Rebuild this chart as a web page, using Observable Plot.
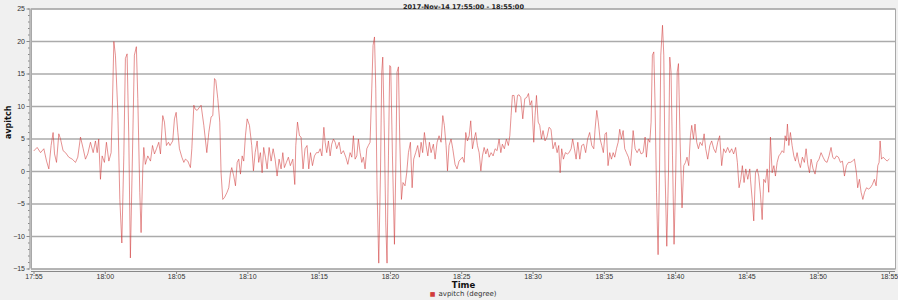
<!DOCTYPE html>
<html>
<head>
<meta charset="utf-8">
<script src="https://cdn.jsdelivr.net/npm/d3@7"></script>
<script src="https://cdn.jsdelivr.net/npm/@observablehq/plot@0.6"></script>
<style>
  html, body { margin: 0; padding: 0; background: #f0f0f0; }
  #chart svg { display: block; }
</style>
</head>
<body>
<div id="chart"></div>
<script>
// Minutes after 17:55:00 (2017-Nov-14)
const minutes = [
  0.00,0.22,0.46,0.69,0.88,1.04,1.20,1.34,1.44,1.58,1.74,1.86,2.04,2.21,2.44,2.68,2.91,3.07,3.26,3.45,3.61,3.77,3.96,4.15,4.31,4.43,4.54,4.66,4.78,4.94,5.08,5.25,5.41,5.50,5.60,5.71,5.88,6.02,6.16,6.30,6.41,6.53,6.65,6.76,6.88,7.04,7.18,7.28,7.42,7.51,7.63,7.70,7.81,7.98,8.17,8.31,8.45,8.59,8.75,8.87,9.03,9.15,9.29,9.43,9.54,9.73,9.85,
  9.97,10.09,10.20,10.37,10.51,10.62,10.79,10.97,11.07,11.21,11.30,11.44,11.61,11.72,11.91,12.12,12.26,12.42,12.54,12.66,12.75,12.89,13.03,13.12,13.24,13.36,13.54,13.66,13.78,13.87,14.01,14.13,14.25,14.36,14.48,14.60,14.71,14.83,14.95,15.11,15.27,15.39,15.51,15.65,15.76,15.88,16.00,16.11,16.23,16.35,16.49,16.63,16.77,16.91,17.05,17.19,17.33,17.45,17.56,17.70,17.84,17.98,18.15,18.29,18.36,18.48,18.62,18.73,18.87,19.01,19.15,19.27,19.39,19.53,19.67,19.81,
  19.95,20.07,20.19,20.33,20.42,20.53,20.65,20.77,20.88,21.00,21.12,21.23,21.40,21.54,21.70,21.87,22.01,22.17,22.29,22.40,22.52,22.64,22.75,22.87,22.99,23.10,23.22,23.34,23.45,23.57,23.69,23.78,23.88,23.97,24.06,24.18,24.30,24.39,24.46,24.58,24.67,24.76,24.86,24.95,25.02,25.14,25.28,25.37,25.46,25.56,25.65,25.77,25.88,26.02,26.14,26.26,26.40,26.52,26.63,26.77,26.91,27.03,27.15,27.26,27.38,27.50,27.62,27.73,27.85,28.01,28.13,28.27,28.41,28.55,28.67,28.78,28.90,29.00,29.11,29.25,29.37,29.53,29.67,29.81,
  30.05,30.17,30.28,30.40,30.52,30.63,30.75,30.87,30.98,31.10,31.22,31.34,31.45,31.57,31.69,31.80,31.92,32.06,32.20,32.34,32.48,32.62,32.74,32.85,32.99,33.13,33.27,33.37,33.46,33.55,33.67,33.79,33.91,34.02,34.14,34.28,34.42,34.56,34.68,34.79,34.91,35.05,35.14,35.24,35.36,35.47,35.59,35.70,35.84,35.98,36.12,36.26,36.40,36.55,36.69,36.80,36.90,37.01,37.13,37.27,37.41,37.53,37.67,37.78,37.90,38.02,38.14,38.28,38.41,38.55,38.69,38.83,38.97,39.12,39.26,39.35,39.47,39.58,39.70,39.82,39.93,40.05,
  40.15,40.26,40.38,40.50,40.62,40.73,40.85,40.97,41.08,41.20,41.32,41.43,41.55,41.69,41.83,41.93,42.02,42.16,42.30,42.44,42.58,42.72,42.86,42.95,43.07,43.19,43.28,43.37,43.47,43.56,43.66,43.77,43.87,43.96,44.08,44.17,44.26,44.38,44.50,44.59,44.68,44.78,44.89,45.01,45.11,45.20,45.31,45.45,45.57,45.69,45.80,45.92,46.04,46.13,46.25,46.36,46.48,46.60,46.72,46.86,47.00,47.11,47.25,47.40,47.53,47.67,47.81,47.95,48.09,48.23,48.37,48.51,48.65,48.79,48.93,49.07,49.21,49.33,49.45,49.57,49.68,49.80,49.92,50.06,50.20,
  50.25,50.37,50.48,50.60,50.72,50.83,50.95,51.07,51.18,51.30,51.42,51.53,51.65,51.77,51.89,52.00,52.12,52.24,52.35,52.47,52.59,52.68,52.77,52.84,52.94,53.05,53.17,53.29,53.40,53.52,53.64,53.75,53.89,54.03,54.15,54.27,54.39,54.50,54.64,54.78,54.92,55.06,55.20,55.34,55.48,55.62,55.76,55.90,56.02,56.14,56.28,56.42,56.56,56.70,56.84,56.98,57.12,57.26,57.40,57.54,57.68,57.77,57.89,58.01,58.13,58.25,58.39,58.52,58.66,58.80,58.94,59.06,59.18,59.27,59.34,59.44,59.55,59.69,59.83,59.97
];
// avpitch (degree)
const avpitch = [
  3.2,3.7,2.9,3.5,1.6,0.4,4.0,6.0,2.7,1.4,5.8,5.0,3.2,2.9,2.2,1.9,1.4,2.2,5.3,3.5,1.9,2.7,4.5,2.9,4.7,2.9,5.0,-1.2,2.4,1.4,4.5,1.6,2.9,10.2,20.0,17.9,9.1,-4.3,-11.0,2.4,17.4,18.1,5.0,-13.3,-0.2,17.9,19.2,11.2,-3.2,-9.4,0.4,3.7,1.1,2.4,1.6,4.0,2.7,3.5,4.5,2.7,8.6,7.6,4.0,4.5,4.0,4.7,8.1,
  9.1,6.0,3.5,2.2,1.4,1.9,1.6,0.6,3.5,10.2,9.6,9.4,9.9,10.2,7.1,2.9,6.0,8.4,8.6,14.3,14.0,11.2,7.6,-0.2,-4.3,-4.0,-3.2,-2.5,-0.2,0.6,-0.7,-2.2,1.4,1.9,-0.4,2.4,1.6,5.5,8.1,7.1,4.0,0.1,2.9,4.7,1.4,2.9,-0.2,3.7,2.2,0.4,3.7,1.6,3.5,1.9,-0.7,1.9,0.4,2.9,0.6,1.4,2.2,0.9,1.9,-2.0,4.0,7.6,5.5,5.3,0.4,3.5,4.0,0.4,2.9,0.9,2.4,2.9,
  2.9,3.5,2.4,6.8,4.5,2.9,4.7,2.4,4.2,5.0,4.5,3.5,4.5,2.7,3.2,2.2,1.1,2.9,2.2,5.5,1.9,2.4,5.0,2.9,1.4,2.2,0.4,3.5,4.0,4.5,12.7,19.4,20.7,12.7,-2.7,-14.1,-0.2,15.3,17.6,5.0,-7.9,-14.1,2.4,16.3,16.1,2.4,-11.2,-0.2,15.3,16.1,5.0,-4.3,-1.7,-2.2,-0.2,2.9,4.5,-2.5,1.9,2.9,4.0,2.2,4.5,2.9,6.0,4.0,2.4,4.5,2.9,4.2,1.9,4.5,5.5,4.5,8.6,7.1,4.0,0.1,4.0,5.0,3.5,1.1,0.4,1.6,
  2.2,1.4,6.0,4.7,5.5,7.8,3.5,5.0,6.0,4.0,2.9,0.1,2.4,3.7,2.7,3.5,2.2,2.9,2.4,3.5,3.2,5.0,2.9,4.2,3.5,5.0,4.0,5.5,8.6,11.7,11.7,9.1,11.7,11.8,11.4,8.1,11.2,11.4,12.0,10.2,10.9,4.5,8.6,11.7,7.6,7.1,5.0,6.3,4.7,5.3,6.8,6.5,3.5,4.5,2.9,4.0,-0.2,3.5,1.9,2.9,2.7,2.9,3.5,5.0,3.5,1.9,4.5,1.9,4.0,4.2,2.9,5.0,6.0,4.0,3.5,6.5,9.4,7.6,5.0,4.0,2.9,5.8,
  6.0,0.9,2.9,1.9,2.9,2.2,3.5,4.5,6.5,5.0,6.3,3.5,2.9,2.2,0.9,3.5,6.3,3.5,2.9,3.5,2.7,2.9,5.3,2.2,5.0,4.5,7.6,17.9,18.4,10.2,-3.2,-12.8,-0.2,17.9,22.5,17.9,-0.2,-11.5,-0.2,17.6,15.3,2.4,-11.2,-0.2,15.3,16.6,5.0,-5.6,0.9,1.4,2.2,0.9,5.5,7.1,5.0,7.3,4.5,3.5,4.5,4.0,5.8,3.5,1.9,4.0,4.7,3.5,2.9,4.5,5.5,0.9,3.5,2.9,3.7,2.9,3.5,2.7,3.7,1.4,-2.5,-1.2,0.9,-1.7,0.4,-1.2,0.4,
  -1.2,-4.3,-7.6,-0.2,0.4,-0.7,-3.5,-7.4,-1.2,-1.7,0.4,-3.2,5.3,-0.2,0.9,-0.7,1.4,2.4,2.7,3.2,2.9,5.5,4.7,7.3,4.0,6.0,4.0,2.4,1.6,2.9,1.4,0.6,2.2,1.4,3.5,1.1,-0.2,1.9,0.4,-0.4,1.4,1.9,2.9,2.2,1.6,1.4,2.4,3.7,2.2,1.9,2.4,2.2,1.4,1.6,-0.7,0.9,1.4,1.4,1.6,1.9,-0.2,-2.5,-1.2,-3.2,-4.3,-3.2,-2.5,-2.7,-2.5,-2.0,-1.2,-2.2,0.9,1.4,4.7,1.9,2.2,1.9,1.6,1.9
];
const yTicks = [-15, -10, -5, 0, 5, 10, 15, 20, 25];
const yMinorTicks = d3.range(-15, 26, 1);
const xTickMinutes = [0, 5, 10, 15, 20, 25, 30, 35, 40, 45, 50, 55, 60];
const titleText = "2017-Nov-14 17:55:00 - 18:55:00";
const xLabel = "Time";
const yLabel = "avpitch";
const legendLabel = "avpitch (degree)";

const start = Date.UTC(2017, 10, 14, 17, 55, 0);
const toDate = m => new Date(start + m * 60000);
const data = minutes.map((m, i) => ({t: toDate(m), v: avpitch[i]}));
const xTicks = xTickMinutes.map(toDate);
const xDomain = [toDate(-0.1753), toDate(60.421)];
const fmt = d3.utcFormat("%H:%M");

const chart = Plot.plot({
  width: 898,
  height: 300,
  marginLeft: 31,
  marginRight: 3,
  marginTop: 8.5,
  marginBottom: 31.5,
  style: {background: "#f0f0f0", fontFamily: "DejaVu Sans", fontSize: "7px", color: "#333"},
  x: {type: "utc", domain: xDomain},
  y: {domain: [-15, 25]},
  marks: [
    Plot.frame({fill: "white", stroke: "#a8a8a8"}),
    Plot.gridY(yTicks, {stroke: "#ababab", strokeOpacity: 1, strokeWidth: 1.3}),
    Plot.lineY(data, {x: "t", y: "v", stroke: "#d03c3c", strokeWidth: 0.8, strokeOpacity: 0.7}),
    // y axis
    Plot.ruleX([xDomain[0]], {dx: -1.5, stroke: "#888", strokeWidth: 1}),
    Plot.axisY(yMinorTicks, {anchor: "left", dx: -1.5, tickSize: 1.5, tickFormat: () => "", label: null, stroke: "#888"}),
    Plot.axisY(yTicks, {anchor: "left", dx: -1.5, tickSize: 3, tickPadding: 2, label: null, stroke: "#888", fill: "#333", fontSize: 7, fontFamily: "Liberation Sans"}),
    Plot.text([yLabel], {frameAnchor: "left", dx: -23, rotate: -90, fontWeight: "bold", fontSize: 8, fill: "#111"}),
    // x axis
    Plot.ruleY([-15], {dy: 2.5, stroke: "#888", strokeWidth: 1}),
    Plot.axisX(xTicks, {anchor: "bottom", dy: 2.5, tickSize: 3, tickPadding: 0, tickFormat: fmt, label: null, stroke: "#888", fill: "#333", fontSize: 7, fontFamily: "Liberation Sans"}),
    Plot.text([xLabel], {frameAnchor: "bottom", dy: 18.5, fontWeight: "bold", fontSize: 8.5, fill: "#111"}),
    // title
    Plot.text([titleText], {frameAnchor: "top", dy: -5, fontWeight: "bold", fontSize: 6.5, fill: "#222"}),
    // legend
    Plot.text(["■"], {frameAnchor: "bottom", dy: 27, dx: -31, fontSize: 6, fill: "#d03c3c"}),
    Plot.text([legendLabel], {frameAnchor: "bottom", dy: 27, dx: 4, fontSize: 7, fill: "#333"})
  ]
});
document.getElementById("chart").append(chart);
</script>
</body>
</html>
